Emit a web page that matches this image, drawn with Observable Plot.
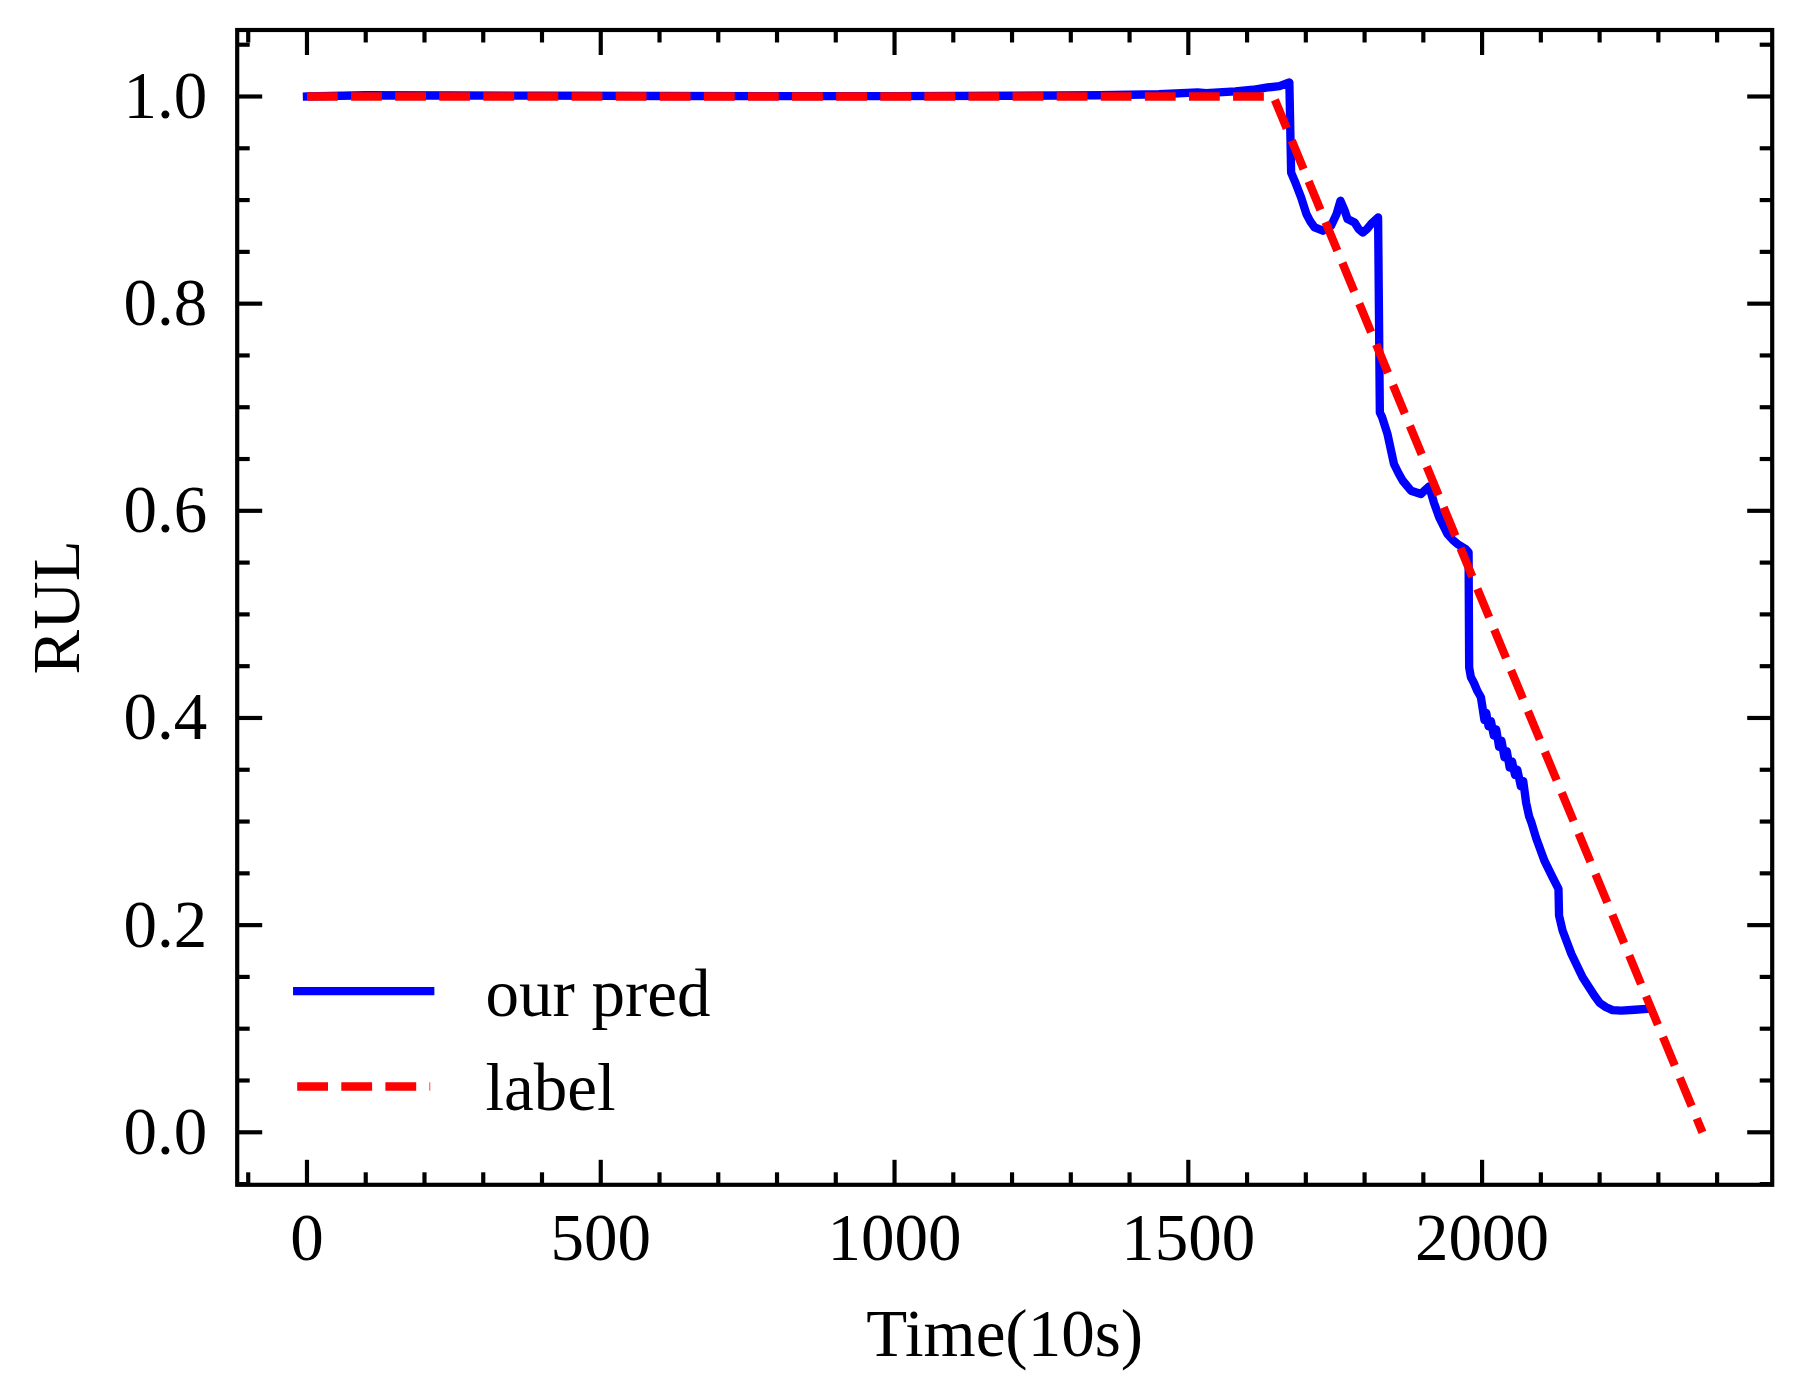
<!DOCTYPE html>
<html>
<head>
<meta charset="utf-8">
<script src="https://cdn.jsdelivr.net/npm/d3@7"></script>
<script src="https://cdn.jsdelivr.net/npm/@observablehq/plot@0.6"></script>
<style>
  html, body { margin: 0; padding: 0; background: #fff; overflow: hidden; }
  #chart svg { display: block; }
</style>
</head>
<body>
<div id="chart"></div>
<script>
// ---- data ----
const predTime = [0, 100, 250, 400, 600, 800, 1000, 1200, 1350, 1450, 1516, 1530, 1580, 1610, 1635, 1655, 1672,
  1675, 1681, 1692, 1701, 1708, 1715, 1729, 1743, 1752, 1759, 1766, 1771, 1783, 1790, 1797, 1804, 1811, 1823,
  1826, 1830, 1839, 1850, 1858, 1865, 1879, 1896, 1903, 1910, 1918, 1927, 1941, 1950, 1958, 1972, 1977,
  1978, 1981, 1986, 1992, 1998, 2004, 2007, 2011, 2015, 2020, 2024, 2029, 2033, 2038, 2042, 2047, 2051, 2056, 2060, 2066, 2070, 2075,
  2080, 2084, 2092, 2106, 2120, 2130,
  2131, 2137, 2152, 2171, 2191, 2200, 2211, 2222, 2237, 2260, 2279];
const predRUL = [1.000, 1.0012, 1.0010, 1.0008, 1.0005, 1.0004, 1.0004, 1.0007, 1.0012, 1.0022, 1.0040, 1.0032, 1.0050, 1.0065, 1.0087, 1.0100, 1.0135,
  0.9266, 0.9186, 0.9025, 0.8865, 0.8790, 0.8736, 0.8704, 0.8752, 0.8860, 0.8993, 0.8900, 0.8817, 0.8784, 0.8720, 0.8687, 0.8720, 0.8768, 0.8832,
  0.6950, 0.6902, 0.6741, 0.6452, 0.6360, 0.6290, 0.6194, 0.6162, 0.6200, 0.6235, 0.6080, 0.5936, 0.5776, 0.5720, 0.5680, 0.5631, 0.5600,
  0.4488, 0.4392, 0.4340, 0.4260, 0.4200, 0.3980, 0.4050, 0.3920, 0.3970, 0.3830, 0.3890, 0.3720, 0.3780, 0.3620, 0.3680, 0.3520, 0.3580, 0.3450, 0.3500, 0.3340, 0.3390, 0.3180,
  0.3050, 0.2990, 0.2840, 0.2623, 0.2461, 0.2350,
  0.2092, 0.1947, 0.1722, 0.1496, 0.1320, 0.1250, 0.1207, 0.1180, 0.1175, 0.1183, 0.1191];

const labelTime = [0, 1645, 2375];
const labelRUL = [1, 1, 0];

const xTicks = [0, 500, 1000, 1500, 2000];
const yTicks = [0.0, 0.2, 0.4, 0.6, 0.8, 1.0];
const seriesNames = ["our pred", "label"];

// ---- build tables ----
const pred = predTime.map((t, i) => ({t, v: predRUL[i]}));
const label = labelTime.map((t, i) => ({t, v: labelRUL[i]}));

const xMinor = d3.range(-100, 2401, 100).filter(d => d % 500 !== 0);
const yMinor = d3.range(-1, 22).map(i => +(i * 0.05).toFixed(2)).filter(d => Math.round(d * 100) % 20 !== 0);

const font = "'Liberation Serif', 'Times New Roman', 'DejaVu Serif', serif";
const FS = 67;
const LW = 8.33;        // 1pt at 600dpi
const AX = 4.17;        // 0.5pt
const MAJ = 25, MIN = 12.5;

const tickShape = {draw(ctx, l) { ctx.moveTo(0, 0); ctx.lineTo(0, -l); }};

function ticks(data, side, len) {
  const rot = {bottom: 0, top: 180, left: 90, right: 270}[side];
  const horiz = side === "bottom" || side === "top";
  return Plot.vector(data, {
    ...(horiz ? {x: d => d} : {y: d => d}),
    frameAnchor: side, rotate: rot, length: len, anchor: "start",
    shape: tickShape, stroke: "black", strokeWidth: AX, strokeLinecap: "butt"
  });
}

const chart = Plot.plot({
  width: 1801,
  height: 1399,
  marginLeft: 236.7,
  marginRight: 29.3,
  marginTop: 29.5,
  marginBottom: 214.7,
  style: {fontFamily: font, fontSize: FS + "px", background: "white", color: "black"},
  x: {domain: [-118.75, 2493.75], axis: null},
  y: {domain: [-0.0507, 1.0642], axis: null},
  marks: [
    Plot.line(pred, {x: "t", y: "v", stroke: "#0000ff", strokeWidth: LW, strokeLinejoin: "round", strokeLinecap: "square"}),
    Plot.line(label, {x: "t", y: "v", stroke: "#ff0000", strokeWidth: LW, strokeDasharray: "30.8,13.3", strokeLinecap: "butt", strokeLinejoin: "round"}),
    // ticks (inward, all four sides)
    ticks(xTicks, "bottom", MAJ), ticks(xMinor, "bottom", MIN),
    ticks(xTicks, "top", MAJ), ticks(xMinor, "top", MIN),
    ticks(yTicks, "left", MAJ), ticks(yMinor, "left", MIN),
    ticks(yTicks, "right", MAJ), ticks(yMinor, "right", MIN),
    // tick labels
    Plot.axisX(xTicks, {anchor: "bottom", tickSize: 0, tickPadding: 28, tickFormat: d3.format("d"), label: null, fontSize: FS}),
    Plot.axisY(yTicks, {anchor: "left", tickSize: 0, tickPadding: 30, tickFormat: d3.format(".1f"), label: null, fontSize: FS}),
    // axis titles
    Plot.text(["Time(10s)"], {frameAnchor: "bottom", text: d => d, lineAnchor: "bottom", dy: 171, fontSize: FS, fill: "black"}),
    Plot.text(["RUL"], {frameAnchor: "left", text: d => d, rotate: -90, lineAnchor: "bottom", textAnchor: "middle", dx: -158.7, fontSize: FS, fill: "black"}),
    // legend
    Plot.vector([seriesNames[0]], {frameAnchor: "bottom-left", dx: 60, dy: -193.6, rotate: 90, length: 133, anchor: "start",
      shape: tickShape, stroke: "#0000ff", strokeWidth: LW, strokeLinecap: "square"}),
    Plot.vector([seriesNames[1]], {frameAnchor: "bottom-left", dx: 60, dy: -98.3, rotate: 90, length: 133, anchor: "start",
      shape: tickShape, stroke: "#ff0000", strokeWidth: LW, strokeLinecap: "butt", strokeDasharray: "30.8,13.3"}),
    Plot.text([seriesNames[0]], {frameAnchor: "bottom-left", text: d => d, textAnchor: "start", lineAnchor: "bottom", dx: 248.3, dy: -169.3, fontSize: FS, fill: "black"}),
    Plot.text([seriesNames[1]], {frameAnchor: "bottom-left", text: d => d, textAnchor: "start", lineAnchor: "bottom", dx: 248.3, dy: -75, fontSize: FS, fill: "black"}),
    Plot.frame({stroke: "black", strokeWidth: AX})
  ]
});
document.getElementById("chart").appendChild(chart);
</script>
</body>
</html>
